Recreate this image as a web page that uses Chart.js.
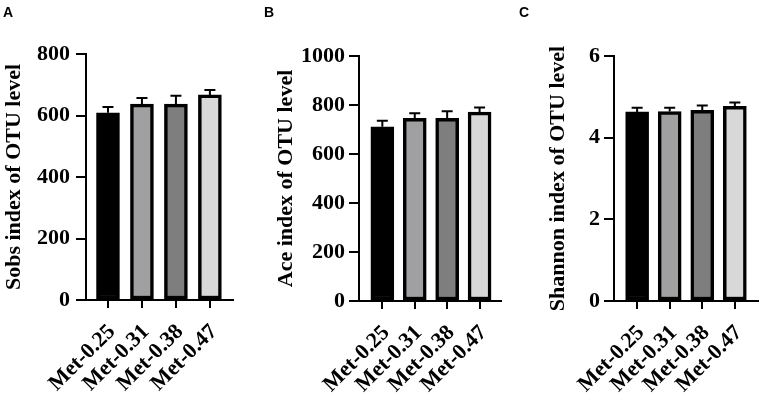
<!DOCTYPE html>
<html><head><meta charset="utf-8">
<script src="https://cdn.jsdelivr.net/npm/chart.js@4/dist/chart.umd.min.js"></script>
<style>
html,body{margin:0;padding:0;background:#fff;width:765px;height:399px;overflow:hidden;position:relative}
.p{position:absolute;top:0;width:255px;height:399px}
.lbl{position:absolute;font-family:"Liberation Sans",Arial,sans-serif;font-weight:bold;font-size:14px;line-height:14px}
</style></head><body>
<div class="p" style="left:0"><canvas id="cA" width="255" height="399"></canvas></div>
<div class="p" style="left:255px"><canvas id="cB" width="255" height="399"></canvas></div>
<div class="p" style="left:510px"><canvas id="cC" width="255" height="399"></canvas></div>
<div class="lbl" style="left:3px;top:5px">A</div>
<div class="lbl" style="left:264px;top:5px">B</div>
<div class="lbl" style="left:519px;top:5px">C</div>
<script>
const categories = ['Met-0.25', 'Met-0.31', 'Met-0.38', 'Met-0.47'];
const sobsMean = [609, 637, 637, 667];
const sobsErr = [19, 20, 27, 16];
const aceMean = [711, 746, 746, 771];
const aceErr = [25, 20, 29, 19];
const shannonMean = [4.63, 4.64, 4.67, 4.77];
const shannonErr = [0.10, 0.09, 0.12, 0.09];
const barColors = ['#000000', '#a0a0a2', '#7e7e7e', '#d8d8d8'];

const FONT = "'Liberation Serif'";

function errorBarPlugin(errs) {
  return {
    id: 'errbars',
    afterDatasetsDraw(chart) {
      const ctx = chart.ctx, xs = chart.scales.x, ys = chart.scales.y;
      const data = chart.data.datasets[0].data;
      ctx.save();
      ctx.strokeStyle = '#000';
      ctx.lineWidth = 2;
      data.forEach((d, i) => {
        const x = xs.getPixelForValue(d.x);
        const y0 = ys.getPixelForValue(d.y);
        const y1 = ys.getPixelForValue(d.y + errs[i]);
        ctx.beginPath();
        ctx.moveTo(x, y0); ctx.lineTo(x, y1);
        ctx.moveTo(x - 5.5, y1); ctx.lineTo(x + 5.5, y1);
        ctx.stroke();
      });
      ctx.restore();
    }
  };
}

function makePanel(id, means, errs, yMax, yStep, title, g) {
  const f = { family: FONT, size: 22, weight: 'bold' };
  new Chart(document.getElementById(id), {
    type: 'bar',
    data: {
      datasets: [{
        data: means.map((v, i) => ({ x: i, y: v })),
        backgroundColor: barColors,
        borderColor: '#000',
        borderWidth: 3.5,
        borderSkipped: false,
        barThickness: 23
      }]
    },
    options: {
      responsive: false,
      animation: false,
      events: [],
      layout: { padding: { left: 0, right: 255 - g.right, top: g.top, bottom: 0 } },
      plugins: { legend: { display: false }, tooltip: { enabled: false } },
      scales: {
        x: {
          type: 'linear',
          min: g.xmin, max: g.xmax,
          offset: false,
          afterBuildTicks(s) { s.ticks = categories.map((c, i) => ({ value: i })); },
          afterFit(s) { s.height = 399 - g.bottom; },
          grid: { display: true, offset: false, drawOnChartArea: false, drawTicks: true, tickLength: 8, color: '#000', lineWidth: 2 },
          border: { display: true, color: '#000', width: 2 },
          ticks: {
            autoSkip: false, maxRotation: 45, minRotation: 45, padding: g.xPad, labelOffset: 4,
            color: '#000', font: f,
            callback: (v) => categories[v]
          }
        },
        y: {
          min: 0, max: yMax,
          afterFit(s) { s.width = g.left; },
          grid: { display: true, drawOnChartArea: false, drawTicks: true, tickLength: 10, color: '#000', lineWidth: 2 },
          border: { display: true, color: '#000', width: 2 },
          ticks: { stepSize: yStep, padding: g.tickPad, color: '#000', font: f, callback: (v) => String(v) },
          title: { display: true, text: title, color: '#000', padding: { top: g.titlePad, bottom: 0 }, font: f }
        }
      }
    },
    plugins: [errorBarPlugin(errs)]
  });
}

makePanel('cA', sobsMean, sobsErr, 800, 200, 'Sobs index of OTU level',
  { left: 86, right: 233, top: 54, bottom: 300, xmin: -0.647, xmax: 3.68, titlePad: 1, tickPad: 6, xPad: 11 });
makePanel('cB', aceMean, aceErr, 1000, 200, 'Ace index of OTU level',
  { left: 104, right: 250, top: 56, bottom: 301, xmin: -0.72, xmax: 3.66, titlePad: 18, tickPad: 4, xPad: 11 });
makePanel('cC', shannonMean, shannonErr, 6, 2, 'Shannon index of OTU level',
  { left: 104, right: 252, top: 56, bottom: 301, xmin: -0.71, xmax: 3.72, titlePad: 35, tickPad: 4, xPad: 11 });
</script>
</body></html>
